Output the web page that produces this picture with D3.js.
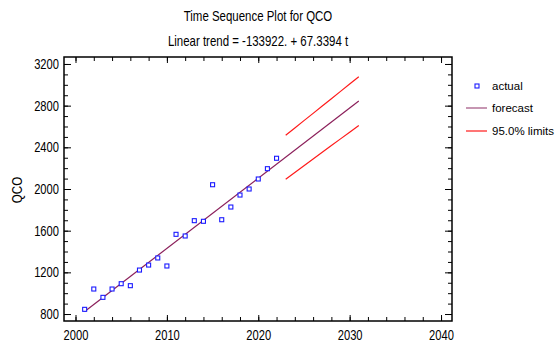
<!DOCTYPE html>
<html>
<head>
<meta charset="utf-8">
<script src="https://cdn.jsdelivr.net/npm/d3@7/dist/d3.min.js"></script>
<style>
  html, body { margin: 0; padding: 0; background: #fff; }
  svg { display: block; }
  text { font-family: "Liberation Sans", Arial, sans-serif; fill: #000; }
</style>
</head>
<body>
<svg id="chart" width="555" height="345"></svg>
<script>
// ---- data ----
const years = [2001, 2002, 2003, 2004, 2005, 2006, 2007, 2008, 2009, 2010, 2011,
               2012, 2013, 2014, 2015, 2016, 2017, 2018, 2019, 2020, 2021, 2022];
const qco = [845, 1040, 960, 1040, 1091, 1072, 1222, 1270, 1338, 1261, 1565,
             1549, 1696, 1690, 2041, 1705, 1827, 1942, 2000, 2096, 2195, 2295];
const trendYears = [2001, 2031];
const trendValues = [824, 2844];
const limitYears = [2023, 2024, 2025, 2026, 2027, 2028, 2029, 2030, 2031];
const upperLimit = [2516, 2585, 2656, 2726, 2796, 2867, 2937, 3007, 3078];
const lowerLimit = [2094, 2159, 2224, 2288, 2352, 2417, 2481, 2545, 2610];
const xTicks = [2000, 2010, 2020, 2030, 2040];
const xMinorTicks = d3.range(2000, 2041, 2);
const yTicks = [800, 1200, 1600, 2000, 2400, 2800, 3200];
const yMinorTicks = d3.range(800, 3201, 100);
const titleLines = ["Time Sequence Plot for QCO", "Linear trend = -133922. + 67.3394 t"];
const yLabel = "QCO";
const legendLabels = ["actual", "forecast", "95.0% limits"];

// ---- layout ----
const svg = d3.select("#chart");
const L = 64, R = 452, T = 57, B = 321;
const x = d3.scaleLinear().domain([1998.74, 2041.2]).range([L, R]);
const y = d3.scaleLinear().domain([733, 3267]).range([B, T]);

function condense(sel, ratio) {
  sel.each(function () {
    const len = this.getComputedTextLength();
    d3.select(this).attr("textLength", len * ratio).attr("lengthAdjust", "spacingAndGlyphs");
  });
}

// titles
const titles = svg.append("g").selectAll("text").data(titleLines).join("text")
  .attr("x", (L + R) / 2)
  .attr("y", (d, i) => i === 0 ? 21 : 46)
  .attr("text-anchor", "middle")
  .style("font-size", "14.5px")
  .text(d => d);
condense(titles, 0.79);

// axes
function styleAxis(g) {
  g.select(".domain").remove();
  g.selectAll("line").attr("stroke", "#000").attr("stroke-width", 1);
}
const tickFont = "14.5px";

const gl = svg.append("g").attr("transform", `translate(${L},0)`)
  .call(d3.axisLeft(y).tickValues(yTicks).tickFormat(d3.format("d")).tickSizeInner(-7).tickSizeOuter(0).tickPadding(5))
  .call(styleAxis);
gl.selectAll("text").style("font-size", tickFont).attr("font-family", null);
condense(gl.selectAll("text"), 0.77);
svg.append("g").attr("transform", `translate(${L},0)`)
  .call(d3.axisLeft(y).tickValues(yMinorTicks).tickFormat("").tickSizeInner(-4).tickSizeOuter(0))
  .call(styleAxis);
svg.append("g").attr("transform", `translate(${R},0)`)
  .call(d3.axisRight(y).tickValues(yTicks).tickFormat("").tickSizeInner(-7).tickSizeOuter(0))
  .call(styleAxis);
svg.append("g").attr("transform", `translate(${R},0)`)
  .call(d3.axisRight(y).tickValues(yMinorTicks).tickFormat("").tickSizeInner(-4).tickSizeOuter(0))
  .call(styleAxis);

const gb = svg.append("g").attr("transform", `translate(0,${B})`)
  .call(d3.axisBottom(x).tickValues(xTicks).tickFormat(d3.format("d")).tickSizeInner(-6).tickSizeOuter(0).tickPadding(9))
  .call(styleAxis);
gb.selectAll("text").style("font-size", tickFont).attr("font-family", null);
condense(gb.selectAll("text"), 0.77);
svg.append("g").attr("transform", `translate(0,${B})`)
  .call(d3.axisBottom(x).tickValues(xMinorTicks).tickFormat("").tickSizeInner(-4).tickSizeOuter(0))
  .call(styleAxis);
svg.append("g").attr("transform", `translate(0,${T})`)
  .call(d3.axisTop(x).tickValues(xTicks).tickFormat("").tickSizeInner(-6).tickSizeOuter(0))
  .call(styleAxis);
svg.append("g").attr("transform", `translate(0,${T})`)
  .call(d3.axisTop(x).tickValues(xMinorTicks).tickFormat("").tickSizeInner(-4).tickSizeOuter(0))
  .call(styleAxis);

// frame
svg.append("rect")
  .attr("x", L).attr("y", T).attr("width", R - L).attr("height", B - T)
  .attr("fill", "none").attr("stroke", "#000").attr("stroke-width", 1.5);

// y label
const yl = svg.append("text")
  .attr("transform", `translate(22,${(T + B) / 2 + 1}) rotate(-90)`)
  .attr("text-anchor", "middle")
  .style("font-size", "14.5px")
  .text(yLabel);
condense(yl, 0.8);

// lines
const trendColor = "#8b1f5a";
const limitColor = "#ff1a1a";
const line = d3.line().x(d => x(d[0])).y(d => y(d[1]));
svg.append("path")
  .datum(trendYears.map((t, i) => [t, trendValues[i]]))
  .attr("d", line).attr("fill", "none").attr("stroke", trendColor).attr("stroke-width", 1.2);
[upperLimit, lowerLimit].forEach(arr => {
  svg.append("path")
    .datum(limitYears.map((t, i) => [t, arr[i]]))
    .attr("d", line).attr("fill", "none").attr("stroke", limitColor).attr("stroke-width", 1.2);
});

// points
svg.append("g").selectAll("rect").data(years.map((t, i) => [t, qco[i]])).join("rect")
  .attr("x", d => x(d[0]) - 2).attr("y", d => y(d[1]) - 2)
  .attr("width", 4).attr("height", 4)
  .attr("fill", "#fff").attr("stroke", "#1a1aff").attr("stroke-width", 1.1);

// legend
const lg = svg.append("g");
const rows = [86, 108, 131];
lg.append("rect").attr("x", 475).attr("y", rows[0] - 2).attr("width", 4).attr("height", 4)
  .attr("fill", "#fff").attr("stroke", "#1a1aff").attr("stroke-width", 1.1);
lg.append("line").attr("x1", 466).attr("x2", 487).attr("y1", rows[1]).attr("y2", rows[1])
  .attr("stroke", "#a0507f").attr("stroke-width", 1.2);
lg.append("line").attr("x1", 466).attr("x2", 487).attr("y1", rows[2]).attr("y2", rows[2])
  .attr("stroke", limitColor).attr("stroke-width", 1.2);
lg.selectAll("text").data(legendLabels).join("text")
  .attr("x", 492).attr("y", (d, i) => rows[i])
  .attr("dy", "0.36em")
  .style("font-size", "11.5px")
  .text(d => d);
</script>
</body>
</html>
